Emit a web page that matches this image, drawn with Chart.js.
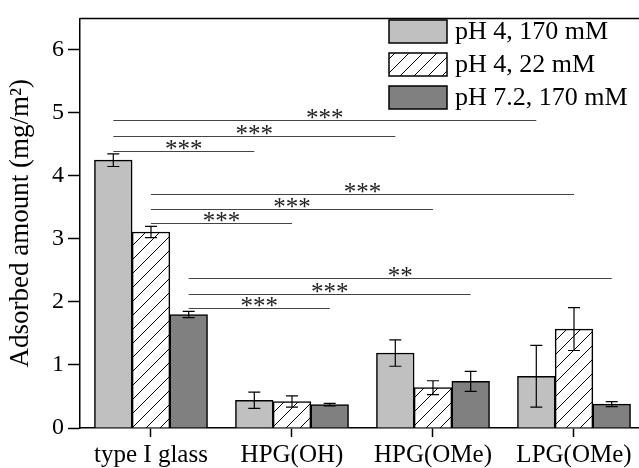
<!DOCTYPE html>
<html>
<head>
<meta charset="utf-8">
<script src="https://cdn.jsdelivr.net/npm/chart.js@4/dist/chart.umd.min.js"></script>
<style>
  html, body { margin: 0; padding: 0; background: #fff; }
  #wrap { width: 639px; height: 468px; }
</style>
</head>
<body>
<div id="wrap"><canvas id="c" width="639" height="468"></canvas></div>
<script>
// Surface categories
const categories = ['type I glass', 'HPG(OH)', 'HPG(OMe)', 'LPG(OMe)'];
const categoryPos = [1, 2, 3, 4];

// Adsorbed amount (mg/m²) and standard deviations per buffer condition
const seriesNames = ['pH 4, 170 mM', 'pH 4, 22 mM', 'pH 7.2, 170 mM'];
const ph4_170 = [4.25, 0.44, 1.19, 0.82];
const ph4_22 = [3.11, 0.42, 0.64, 1.57];
const ph72_170 = [1.80, 0.37, 0.74, 0.38];
const ph4_170Err = [0.10, 0.13, 0.21, 0.49];
const ph4_22Err = [0.09, 0.09, 0.11, 0.34];
const ph72_170Err = [0.05, 0.02, 0.16, 0.04];

// Y ticks
const yTicks = [0, 1, 2, 3, 4, 5, 6];

// Significance brackets: series index, compared group (vs type I glass), height, label
const sigSeries = [0, 0, 0, 1, 1, 1, 2, 2, 2];
const sigTarget = [1, 2, 3, 1, 2, 3, 1, 2, 3];
const sigHeight = [4.40, 4.64, 4.88, 3.25, 3.48, 3.72, 1.90, 2.12, 2.38];
const sigLabel = ['***', '***', '***', '***', '***', '***', '***', '***', '**'];

const errors = [ph4_170Err, ph4_22Err, ph72_170Err];

// Diagonal hatch fill
function makeHatch(step) {
  const c = document.createElement('canvas');
  c.width = step; c.height = step;
  const g = c.getContext('2d');
  g.fillStyle = '#fff';
  g.fillRect(0, 0, step, step);
  g.strokeStyle = '#000';
  g.lineWidth = 1;
  g.beginPath();
  g.moveTo(-1, step + 1); g.lineTo(step + 1, -1);
  g.moveTo(-1, 1); g.lineTo(1, -1);
  g.moveTo(step - 1, step + 1); g.lineTo(step + 1, step - 1);
  g.stroke();
  return document.getElementById('c').getContext('2d').createPattern(c, 'repeat');
}
const hatch = makeHatch(14);

const toPoints = arr => arr.map((v, i) => ({ x: categoryPos[i], y: v }));

const serif = 'Liberation Serif, Times New Roman, serif';
Chart.defaults.font.family = serif;
Chart.defaults.color = '#000';

const overlay = {
  id: 'overlay',
  afterDatasetsDraw(chart) {
    const ctx = chart.ctx;
    const ys = chart.scales.y;
    const area = chart.chartArea;
    ctx.save();

    // error bars
    ctx.strokeStyle = '#000';
    ctx.lineWidth = 1.2;
    chart.data.datasets.forEach((ds, di) => {
      const meta = chart.getDatasetMeta(di);
      meta.data.forEach((bar, i) => {
        const v = ds.data[i].y, e = errors[di][i];
        const x = bar.x;
        const yt = ys.getPixelForValue(v + e);
        const yb = ys.getPixelForValue(v - e);
        ctx.beginPath();
        ctx.moveTo(x, yt); ctx.lineTo(x, yb);
        ctx.moveTo(x - 6, yt); ctx.lineTo(x + 6, yt);
        ctx.moveTo(x - 6, yb); ctx.lineTo(x + 6, yb);
        ctx.stroke();
      });
    });

    // significance brackets
    ctx.strokeStyle = '#444';
    ctx.lineWidth = 1.2;
    ctx.fillStyle = '#222';
    ctx.font = '25px ' + serif;
    ctx.textAlign = 'center';
    ctx.textBaseline = 'alphabetic';
    sigSeries.forEach((s, k) => {
      const meta = chart.getDatasetMeta(s);
      const x0 = meta.data[0].x;
      const x1 = meta.data[sigTarget[k]].x;
      const y = Math.round(ys.getPixelForValue(sigHeight[k])) + 0.5;
      ctx.beginPath();
      ctx.moveTo(x0, y); ctx.lineTo(x1, y);
      ctx.stroke();
      ctx.fillText(sigLabel[k], (x0 + x1) / 2, y + 5);
    });

    // top frame line
    ctx.strokeStyle = '#000';
    ctx.lineWidth = 1.5;
    ctx.beginPath();
    ctx.moveTo(area.left, area.top);
    ctx.lineTo(chart.width, area.top);
    ctx.stroke();

    // legend
    const lx = 389, ly = 20, bw = 58, bh = 23, pitch = 33;
    ctx.font = '26px ' + serif;
    ctx.textAlign = 'left';
    ctx.textBaseline = 'middle';
    chart.data.datasets.forEach((ds, di) => {
      const y = ly + di * pitch;
      ctx.fillStyle = ds.backgroundColor;
      ctx.fillRect(lx, y, bw, bh);
      ctx.strokeStyle = '#000';
      ctx.lineWidth = 1.5;
      ctx.strokeRect(lx, y, bw, bh);
      ctx.fillStyle = '#000';
      ctx.fillText(ds.label, lx + bw + 8, y + bh / 2 + 1);
    });
    ctx.restore();
  }
};

const barStyle = { borderColor: '#000', borderWidth: 1.5, barThickness: 37.7 };

new Chart(document.getElementById('c'), {
  type: 'bar',
  data: {
    datasets: [
      Object.assign({ label: seriesNames[0], data: toPoints(ph4_170), backgroundColor: '#c0c0c0' }, barStyle),
      Object.assign({ label: seriesNames[1], data: toPoints(ph4_22), backgroundColor: hatch }, barStyle),
      Object.assign({ label: seriesNames[2], data: toPoints(ph72_170), backgroundColor: '#808080' }, barStyle)
    ]
  },
  options: {
    responsive: false,
    animation: false,
    layout: { padding: { top: 13, left: 0, right: 0, bottom: 0 } },
    plugins: { legend: { display: false }, tooltip: { enabled: false } },
    scales: {
      x: {
        type: 'linear',
        min: 0.4965,
        max: 4.461,
        offset: false,
        afterBuildTicks: s => { s.ticks = categoryPos.map(v => ({ value: v })); },
        afterFit: s => { s.height = 40; },
        ticks: {
          callback: v => categories[categoryPos.indexOf(v)] || '',
          font: { size: 25 },
          color: '#000',
          padding: 3,
          maxRotation: 0,
          autoSkip: false
        },
        grid: { drawOnChartArea: false, drawTicks: true, tickLength: 9, tickColor: '#000', tickWidth: 1.5, offset: false },
        border: { display: true, color: '#000', width: 1.5 }
      },
      y: {
        min: 0,
        max: 6.5,
        afterBuildTicks: s => { s.ticks = yTicks.map(v => ({ value: v })); },
        afterFit: s => { s.width = 80; },
        ticks: { font: { size: 24 }, color: '#000', padding: 4 },
        grid: { drawOnChartArea: false, drawTicks: true, tickLength: 12, tickColor: '#000', tickWidth: 1.5 },
        border: { display: true, color: '#000', width: 1.5 },
        title: {
          display: true,
          text: 'Adsorbed amount (mg/m²)',
          font: { size: 27 },
          color: '#000',
          padding: { top: 5, bottom: 0 }
        }
      }
    }
  },
  plugins: [overlay]
});
</script>
</body>
</html>
